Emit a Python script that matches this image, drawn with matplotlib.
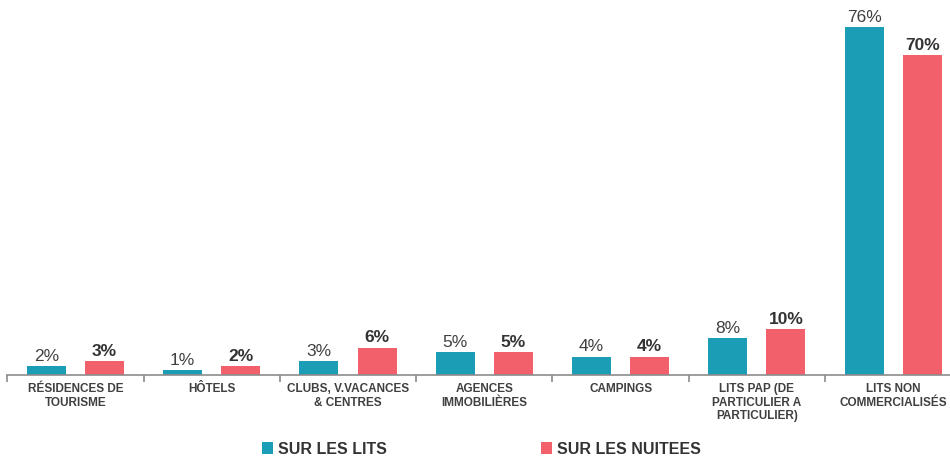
import matplotlib
matplotlib.use("Agg")
import matplotlib.pyplot as plt
import numpy as np

plt.rcParams['font.family'] = ['Liberation Sans', 'DejaVu Sans']

# data
categories = [
    "RÉSIDENCES DE\nTOURISME",
    "HÔTELS",
    "CLUBS, V.VACANCES\n& CENTRES",
    "AGENCES\nIMMOBILIÈRES",
    "CAMPINGS",
    "LITS PAP (DE\nPARTICULIER A\nPARTICULIER)",
    "LITS NON\nCOMMERCIALISÉS",
]
lits = [2, 1, 3, 5, 4, 8, 76]
nuitees = [3, 2, 6, 5, 4, 10, 70]
series_names = ["SUR LES LITS", "SUR LES NUITEES"]

TEAL = "#1B9EB5"
RED = "#F2616B"
GREY_TXT = "#404040"

fig = plt.figure(figsize=(9.5, 4.58), dpi=100)
# axes run slightly past the right edge, as in the source image
ax = fig.add_axes([7.3 / 950, 83 / 458, 954 / 950, 375 / 458])

x = np.arange(len(categories))
w = 0.286
off = 0.213
b1 = ax.bar(x - off, lits, w, color=TEAL, label=series_names[0])
b2 = ax.bar(x + off, nuitees, w, color=RED, label=series_names[1])

for rect, v in zip(b1, lits):
    ax.text(rect.get_x() + rect.get_width() / 2, v + 0.5, f"{v}%",
            ha="center", va="bottom", fontsize=12.5, color=GREY_TXT)
for rect, v in zip(b2, nuitees):
    ax.text(rect.get_x() + rect.get_width() / 2, v + 0.5, f"{v}%",
            ha="center", va="bottom", fontsize=12.5, color="#333333",
            fontweight="bold")

ax.set_xlim(-0.5, len(categories) - 0.5)
ax.set_ylim(0, 82)
ax.set_yticks([])
for s in ["top", "right", "left"]:
    ax.spines[s].set_visible(False)
ax.spines["bottom"].set_color("#8C8C8C")
ax.spines["bottom"].set_linewidth(1.2)

ax.set_xticks(x)
ax.set_xticklabels(categories, fontsize=8.5, fontweight="bold",
                   color=GREY_TXT, linespacing=1.15)
ax.tick_params(axis="x", which="major", length=0, pad=6)
ax.set_xticks(np.arange(len(categories) + 1) - 0.5, minor=True)
ax.tick_params(axis="x", which="minor", length=5, color="#8C8C8C", width=1.2)

fig.legend(loc="center", bbox_to_anchor=(0.507, 1 - 449 / 458), ncol=2,
           frameon=False, prop={"size": 11.5, "weight": "bold"},
           handlelength=0.7, handleheight=0.7, handletextpad=0.3,
           columnspacing=9.65, labelcolor="#333333")

fig.savefig("out.png", dpi=100)
